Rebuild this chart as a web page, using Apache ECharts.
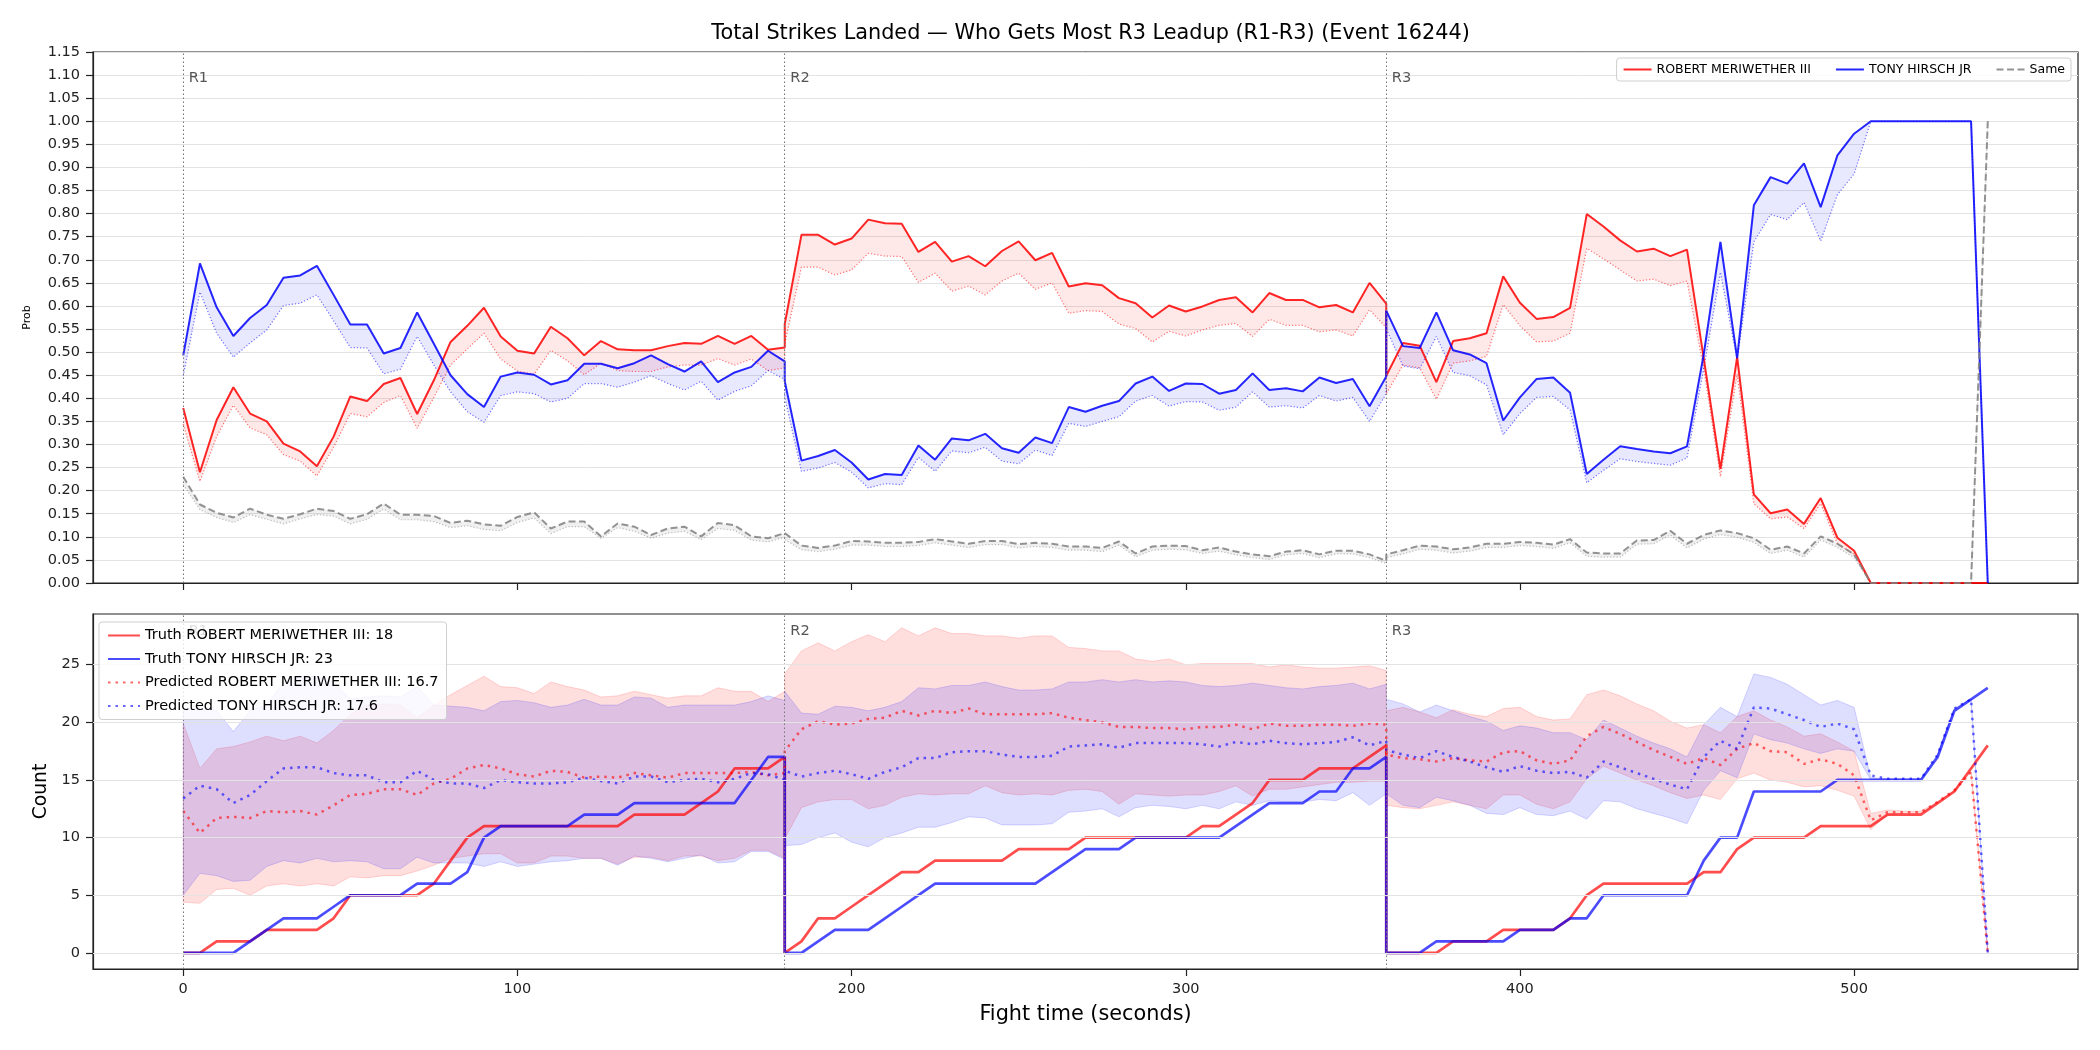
<!DOCTYPE html>
<html><head><meta charset="utf-8">
<script src="https://cdn.jsdelivr.net/npm/echarts@6/dist/echarts.min.js"></script>
<style>html,body{margin:0;padding:0;background:#fff}#chart{width:2100px;height:1050px}</style>
</head><body><div id="chart"></div>
<script>
// ---------- data ----------
const titleText = 'Total Strikes Landed \u2014 Who Gets Most R3 Leadup (R1-R3) (Event 16244)';
const fighters = ['ROBERT MERIWETHER III', 'TONY HIRSCH JR'];
const sameName = 'Same';
const finalTruth = [18, 23];
const finalPred = [16.7, 17.6];
const roundLabels = ['R1', 'R2', 'R3'];
const roundStarts = [0, 180, 360];
const xTicks = [0, 100, 200, 300, 400, 500];
const countTicks = [0, 5, 10, 15, 20, 25];

const tR1 = [0,5,10,15,20,25,30,35,40,45,50,55,60,65,70,75,80,85,90,95,100,105,110,115,120,125,130,135,140,145,150,155,160,165,170,175,180];
const tR2 = [180,185,190,195,200,205,210,215,220,225,230,235,240,245,250,255,260,265,270,275,280,285,290,295,300,305,310,315,320,325,330,335,340,345,350,355,360];
const tR3 = [360,365,370,375,380,385,390,395,400,405,410,415,420,425,430,435,440,445,450,455,460,465,470,475,480,485,490,495,500,505,510,515,520,525,530,535,540];

// top panel: probabilities
const probRed = [
 0.379,0.240,0.353,0.424,0.367,0.350,0.302,0.285,0.253,0.317,0.404,0.394,0.431,0.444,0.366,0.439,0.522,0.557,0.596,0.534,0.503,0.497,0.555,0.530,0.493,0.524,0.506,0.504,0.504,0.513,0.520,0.518,0.535,0.518,0.535,0.505,0.510,
 0.561,0.754,0.754,0.733,0.746,0.787,0.779,0.778,0.717,0.739,0.696,0.708,0.686,0.719,0.740,0.699,0.715,0.642,0.649,0.645,0.617,0.606,0.575,0.601,0.588,0.599,0.613,0.619,0.586,0.628,0.613,0.613,0.597,0.602,0.586,0.650,0.605,
 0.449,0.520,0.514,0.435,0.524,0.530,0.541,0.664,0.607,0.572,0.576,0.596,0.799,0.772,0.742,0.718,0.724,0.708,0.722,0.487,0.247,0.489,0.192,0.151,0.159,0.128,0.184,0.098,0.070,0,0,0,0,0,0,0,0];
const probRedLow = [
 0.344,0.220,0.317,0.385,0.336,0.321,0.278,0.264,0.232,0.294,0.367,0.360,0.391,0.406,0.335,0.402,0.472,0.507,0.541,0.485,0.459,0.452,0.504,0.481,0.451,0.476,0.460,0.458,0.458,0.468,0.472,0.472,0.486,0.472,0.485,0.460,0.466,
 0.518,0.684,0.684,0.667,0.678,0.714,0.708,0.707,0.651,0.671,0.632,0.643,0.624,0.654,0.671,0.636,0.650,0.584,0.590,0.588,0.561,0.551,0.522,0.545,0.535,0.548,0.558,0.562,0.534,0.571,0.558,0.558,0.544,0.548,0.535,0.592,0.553,
 0.410,0.472,0.466,0.398,0.476,0.481,0.491,0.603,0.557,0.522,0.524,0.541,0.725,0.702,0.678,0.654,0.658,0.644,0.654,0.464,0.230,0.452,0.172,0.139,0.143,0.118,0.172,0.085,0.062,0,0,0,0,0,0,0,0];
const probBlue = [
 0.493,0.692,0.597,0.535,0.574,0.602,0.661,0.666,0.687,0.624,0.560,0.560,0.497,0.509,0.586,0.518,0.450,0.409,0.381,0.447,0.456,0.451,0.430,0.439,0.475,0.475,0.465,0.476,0.493,0.474,0.458,0.480,0.435,0.456,0.468,0.503,0.480,
 0.437,0.265,0.275,0.288,0.261,0.224,0.236,0.234,0.298,0.267,0.313,0.309,0.323,0.292,0.282,0.315,0.303,0.381,0.371,0.384,0.394,0.432,0.447,0.416,0.432,0.431,0.410,0.418,0.454,0.418,0.422,0.415,0.445,0.433,0.442,0.383,0.447,
 0.590,0.513,0.509,0.586,0.504,0.495,0.476,0.352,0.402,0.442,0.445,0.412,0.236,0.267,0.296,0.290,0.285,0.281,0.296,0.495,0.739,0.487,0.818,0.879,0.865,0.909,0.814,0.926,0.973,1.0,1.0,1.0,1.0,1.0,1.0,1.0,0];
const probBlueLow = [
 0.449,0.630,0.541,0.489,0.520,0.548,0.601,0.606,0.624,0.568,0.510,0.509,0.453,0.463,0.534,0.472,0.414,0.371,0.348,0.406,0.414,0.410,0.392,0.400,0.432,0.432,0.424,0.435,0.449,0.432,0.418,0.437,0.396,0.415,0.427,0.460,0.441,
 0.402,0.242,0.249,0.261,0.240,0.206,0.215,0.213,0.272,0.242,0.286,0.282,0.294,0.264,0.258,0.288,0.276,0.346,0.339,0.350,0.360,0.394,0.406,0.383,0.393,0.392,0.374,0.381,0.414,0.381,0.384,0.379,0.406,0.394,0.402,0.350,0.410,
 0.551,0.470,0.464,0.534,0.456,0.449,0.429,0.321,0.367,0.402,0.404,0.375,0.217,0.244,0.269,0.263,0.259,0.255,0.271,0.464,0.673,0.483,0.739,0.798,0.787,0.824,0.741,0.841,0.886,1.0,1.0,1.0,1.0,1.0,1.0,1.0,0];
const probSame = [
 0.230,0.170,0.152,0.142,0.161,0.148,0.139,0.149,0.161,0.156,0.139,0.149,0.172,0.148,0.148,0.145,0.130,0.135,0.127,0.124,0.143,0.153,0.118,0.133,0.133,0.101,0.129,0.122,0.104,0.118,0.122,0.101,0.130,0.125,0.101,0.097,0.108,
 0.104,0.081,0.076,0.081,0.091,0.090,0.087,0.087,0.089,0.095,0.090,0.085,0.091,0.091,0.084,0.087,0.085,0.079,0.079,0.076,0.090,0.064,0.079,0.081,0.080,0.071,0.077,0.068,0.062,0.058,0.068,0.071,0.062,0.070,0.070,0.062,0.048,
 0.062,0.071,0.081,0.079,0.073,0.077,0.085,0.085,0.089,0.087,0.083,0.095,0.066,0.064,0.064,0.092,0.093,0.113,0.085,0.104,0.114,0.108,0.097,0.072,0.079,0.064,0.101,0.085,0.062,0,0,0,0,0,0,0,1.0];
const probSameLow = [
 0.213,0.159,0.142,0.131,0.148,0.138,0.128,0.139,0.148,0.145,0.128,0.138,0.160,0.137,0.137,0.133,0.120,0.124,0.116,0.113,0.131,0.141,0.107,0.122,0.122,0.097,0.120,0.112,0.097,0.108,0.112,0.094,0.118,0.114,0.093,0.089,0.099,
 0.094,0.072,0.068,0.073,0.082,0.082,0.079,0.079,0.081,0.087,0.082,0.077,0.083,0.083,0.076,0.079,0.077,0.071,0.071,0.068,0.082,0.057,0.071,0.073,0.072,0.064,0.069,0.061,0.055,0.051,0.061,0.064,0.055,0.063,0.063,0.055,0.042,
 0.055,0.063,0.073,0.071,0.065,0.069,0.077,0.077,0.081,0.079,0.075,0.087,0.058,0.056,0.056,0.084,0.085,0.104,0.076,0.095,0.105,0.099,0.088,0.064,0.071,0.056,0.093,0.077,0.055,0,0,0,0,0,0,0,1.0];

// bottom panel: counts
const truthRed = [
 0,0,1,1,1,2,2,2,2,3,5,5,5,5,5,6,8,10,11,11,11,11,11,11,11,11,11,12,12,12,12,13,14,16,16,16,17,
 0,1,3,3,4,5,6,7,7,8,8,8,8,8,9,9,9,9,10,10,10,10,10,10,10,11,11,12,13,15,15,15,16,16,16,17,18,
 0,0,0,0,1,1,1,2,2,2,2,3,5,6,6,6,6,6,6,7,7,9,10,10,10,10,11,11,11,11,12,12,12,13,14,16,18];
const truthBlue = [
 0,0,0,0,1,2,3,3,3,4,5,5,5,5,6,6,6,7,10,11,11,11,11,11,12,12,12,13,13,13,13,13,13,13,15,17,17,
 0,0,1,2,2,2,3,4,5,6,6,6,6,6,6,6,7,8,9,9,9,10,10,10,10,10,10,11,12,13,13,13,14,14,16,16,17,
 0,0,0,1,1,1,1,1,2,2,2,3,3,5,5,5,5,5,5,8,10,10,14,14,14,14,14,15,15,15,15,15,15,17,21,22,23];
const predRed = [
 12.3,10.4,11.7,11.8,11.7,12.3,12.2,12.3,12.0,12.8,13.7,13.8,14.2,14.2,13.7,14.7,15.1,16.0,16.3,16.0,15.5,15.3,15.8,15.7,15.2,15.3,15.2,15.6,15.4,15.2,15.6,15.6,15.6,15.6,15.7,15.4,15.6,
 17.5,19.4,20.1,19.8,19.9,20.3,20.4,21.0,20.6,21.0,20.8,21.2,20.7,20.7,20.7,20.7,20.8,20.4,20.2,20.0,19.6,19.6,19.5,19.5,19.4,19.6,19.6,19.8,19.4,19.9,19.7,19.7,19.8,19.8,19.7,19.9,19.8,
 17.2,16.9,16.8,16.6,16.9,16.7,16.6,17.4,17.5,16.7,16.4,16.7,18.8,19.6,19.0,18.3,17.6,17.0,16.4,16.9,16.3,17.7,18.2,17.5,17.4,16.4,16.8,16.4,15.4,11.5,12.2,12.2,12.2,13.1,14.1,15.7,0];
const predBlue = [
 13.4,14.5,14.2,13.0,13.7,14.9,16.0,16.1,16.1,15.6,15.4,15.4,14.8,14.8,15.8,15.0,14.7,14.7,14.3,15.0,14.8,14.7,14.7,14.8,15.2,14.9,14.7,15.3,15.3,14.8,15.0,15.1,14.8,15.1,15.6,15.5,15.0,
 15.8,15.3,15.6,15.8,15.5,15.1,15.7,16.1,16.9,16.9,17.4,17.5,17.5,17.2,17.0,17.0,17.1,17.9,18.0,18.1,17.8,18.2,18.2,18.2,18.2,18.1,17.9,18.3,18.1,18.4,18.2,18.1,18.2,18.3,18.7,18.0,18.4,
 17.6,17.2,16.9,17.5,17.0,16.6,16.1,15.7,16.2,15.8,15.6,15.7,15.2,16.6,16.1,15.6,15.1,14.6,14.2,17.0,18.4,17.7,21.3,21.2,20.7,20.2,19.6,19.9,19.4,15.4,15.1,15.1,15.1,17.2,21.2,22.0,0];
const bandRedUp = [
 19.9,16.0,17.7,17.9,18.3,18.8,18.4,18.8,18.2,19.3,20.7,21.5,21.6,21.5,20.4,21.5,22.4,23.2,24.0,23.1,23.0,22.5,23.5,23.1,22.8,22.2,22.3,22.7,22.4,22.1,22.3,22.3,23.0,22.7,22.7,21.8,22.7,
 24.2,26.2,26.9,26.2,27.0,27.6,27.0,28.2,27.5,28.2,27.7,27.7,27.5,27.5,27.3,27.5,27.5,26.5,26.4,26.2,26.2,25.5,25.3,25.5,25.0,25.1,25.1,25.1,25.1,24.8,25.0,24.8,24.7,24.7,24.8,24.9,24.5,
 21.0,21.3,20.9,20.4,21.1,20.7,20.5,21.2,21.3,20.5,20.2,20.3,22.4,22.8,22.3,21.6,21.0,20.1,19.5,19.8,19.1,20.5,21.0,20.2,19.6,18.8,19.0,18.3,17.5,12.1,12.4,12.3,12.3,13.1,14.1,15.7,0];
const bandRedLo = [
 4.4,4.3,5.5,5.6,5.0,5.8,6.0,5.8,6.0,5.8,6.6,6.5,6.7,6.7,7.1,7.6,8.2,8.4,8.6,8.6,7.8,7.8,8.4,8.4,8.2,8.2,7.7,8.3,8.3,8.0,8.4,8.4,8.0,8.2,8.9,8.9,8.2,
 9.9,12.6,13.1,13.3,13.3,12.5,12.8,13.5,13.8,13.7,13.8,13.8,14.5,13.9,13.7,13.8,13.7,14.1,14.2,14.0,12.9,13.8,13.7,13.6,13.7,13.7,14.0,14.5,13.6,14.2,14.2,14.4,14.6,14.8,14.8,14.9,14.9,
 12.8,12.6,12.5,12.8,13.1,12.8,12.5,13.7,13.7,12.9,12.5,13.1,15.1,16.2,15.6,15.0,14.5,13.9,13.4,13.7,13.3,15.1,15.6,15.0,14.8,14.4,14.5,14.1,13.6,10.7,12.0,12.1,12.1,13.1,14.1,15.7,0];
const bandBlueUp = [
 21.0,21.5,21.0,19.2,21.0,21.5,23.5,24.0,24.0,23.5,22.0,22.2,22.3,22.2,23.1,21.5,21.4,21.3,21.0,21.8,21.9,21.7,21.3,21.5,22.0,21.5,21.5,22.2,22.1,21.3,21.5,21.5,21.5,21.5,21.8,22.3,21.9,
 22.7,20.8,20.7,21.4,21.3,21.0,21.3,21.8,23.0,22.9,23.2,23.2,23.5,23.1,22.8,22.8,22.9,23.5,23.5,23.7,23.5,23.7,23.5,23.6,23.5,23.2,23.1,23.2,23.4,23.2,23.0,22.9,23.1,23.2,23.4,22.9,23.3,
 22.0,21.6,20.9,21.5,21.0,20.5,20.1,19.3,19.7,19.5,19.1,19.1,18.5,20.2,19.5,18.8,18.2,17.7,17.0,19.8,21.3,20.5,24.2,23.9,23.3,22.4,21.5,21.9,21.3,15.2,15.1,15.1,15.1,17.2,21.2,22.0,0];
const bandBlueLo = [
 5.0,6.9,6.7,6.2,6.3,7.5,8.0,7.8,8.2,7.9,8.0,7.9,7.3,7.3,8.3,7.8,7.8,7.8,7.5,7.9,7.5,7.7,7.9,8.0,8.2,8.2,7.6,8.4,8.2,7.9,8.2,8.5,7.8,7.9,8.8,8.8,8.1,
 9.3,9.4,10.0,10.4,9.6,9.2,10.0,10.4,10.9,10.9,11.3,11.8,11.7,11.1,11.1,11.1,11.2,12.2,12.3,12.5,11.8,12.6,12.8,12.7,12.5,12.8,12.5,13.1,12.8,13.2,13.1,13.1,13.3,13.2,13.9,12.8,13.8,
 13.8,12.8,12.6,13.5,13.2,12.8,12.1,12.0,12.6,12.0,11.9,12.3,11.6,13.2,13.1,12.5,12.1,11.7,11.2,14.1,15.8,15.2,19.0,18.5,18.2,17.7,17.3,17.7,17.5,15.0,15.1,15.1,15.1,17.2,21.2,22.0,0];

// ---------- build ----------
const time = tR1.concat(tR2, tR3);
const pts = ys => time.map((t, i) => [t, ys[i]]);
const FONT = 'DejaVu Sans';

function band(name, up, lo, fill, stroke, idx, z) {
  return {
    type: 'custom', name, xAxisIndex: idx, yAxisIndex: idx, z, silent: true, clip: true,
    data: [[time[0], lo[0]]],
    renderItem: (params, api) => {
      const p = [];
      for (let i = 0; i < time.length; i++) p.push(api.coord([time[i], up[i]]));
      for (let i = time.length - 1; i >= 0; i--) p.push(api.coord([time[i], lo[i]]));
      return { type: 'polygon', shape: { points: p }, style: { fill, stroke: stroke || null, lineWidth: stroke ? 1 : 0 } };
    }
  };
}
function line(name, ys, color, width, type, idx, z) {
  return {
    type: 'line', name, xAxisIndex: idx, yAxisIndex: idx, data: pts(ys), z,
    symbol: 'none', showSymbol: false, silent: true,
    lineStyle: { color, width, type }, itemStyle: { color }
  };
}
function helper(idx, yLab) {
  return {
    type: 'line', xAxisIndex: idx, yAxisIndex: idx, data: [[0, yLab]], z: 0, zlevel: 0, symbol: 'none', silent: true,
    lineStyle: { width: 0, opacity: 0 },
    markLine: {
      silent: true, symbol: 'none', label: { show: false },
      lineStyle: { color: '#777', width: 1, type: [1.5, 2.5] },
      data: roundStarts.map(v => ({ xAxis: v }))
    },
    markPoint: {
      symbol: 'circle', symbolSize: 1, silent: true, itemStyle: { color: 'rgba(0,0,0,0)' },
      label: { show: true, position: 'right', distance: 5, color: '#555', fontSize: 14.6, fontFamily: FONT, formatter: p => p.name },
      data: roundLabels.map((r, i) => ({ name: r, coord: [roundStarts[i], yLab] }))
    }
  };
}
function gridHelper() {
  return {
    type: 'line', xAxisIndex: 1, yAxisIndex: 1, data: [[0, 0]], z: 0, symbol: 'none', silent: true,
    lineStyle: { width: 0, opacity: 0 },
    markLine: {
      silent: true, symbol: 'none', label: { show: false },
      lineStyle: { color: '#e3e3e3', width: 1, type: 'solid' },
      data: countTicks.map(v => ({ yAxis: v }))
    }
  };
}

const axisCol = '#222';
const tickCfg = { show: true, length: 7, lineStyle: { color: axisCol, width: 1.2 } };
const lineCfg = { show: true, onZero: false, lineStyle: { color: axisCol, width: 1.2 } };

const truthNames = fighters.map((f, i) => 'Truth ' + f + ': ' + finalTruth[i]);
const predNames = fighters.map((f, i) => 'Predicted ' + f + ': ' + finalPred[i]);

const RED = 'rgba(255,0,0,0.85)', BLUE = 'rgba(0,0,255,0.85)';
const legendCommon = {
  backgroundColor: 'rgba(255,255,255,0.8)', borderColor: '#cfcfcf', borderWidth: 1, borderRadius: 3,
  z: 20, zlevel: 1, itemStyle: { opacity: 0 }, selectedMode: false
};
const option = {
  animation: false,
  backgroundColor: '#fff',
  textStyle: { fontFamily: FONT },
  title: { text: titleText, left: 1085.5, textAlign: 'center', top: 18,
    textStyle: { fontSize: 20.8, fontWeight: 'normal', color: '#000', fontFamily: FONT } },
  grid: [
    { left: 93, top: 52, width: 1985, height: 531, show: true, borderColor: axisCol, borderWidth: 1.2, backgroundColor: 'rgba(0,0,0,0)' },
    { left: 93, top: 614, width: 1985, height: 355, show: true, borderColor: axisCol, borderWidth: 1.2, backgroundColor: 'rgba(0,0,0,0)' }
  ],
  xAxis: [
    { gridIndex: 0, type: 'value', min: -27, max: 567, axisLine: lineCfg,
      axisTick: Object.assign({ customValues: xTicks }, tickCfg),
      axisLabel: { show: false, customValues: xTicks }, splitLine: { show: false } },
    { gridIndex: 1, type: 'value', min: -27, max: 567, axisLine: lineCfg,
      axisTick: Object.assign({ customValues: xTicks }, tickCfg),
      axisLabel: { show: true, customValues: xTicks, fontSize: 14.5, color: axisCol, margin: 13, fontFamily: FONT },
      splitLine: { show: false },
      name: 'Fight time (seconds)', nameLocation: 'middle', nameGap: 35,
      nameTextStyle: { fontSize: 20.8, color: '#000', fontFamily: FONT } }
  ],
  yAxis: [
    { gridIndex: 0, type: 'value', min: 0, max: 1.15, interval: 0.05, axisLine: lineCfg, axisTick: tickCfg,
      axisLabel: { fontSize: 14.5, color: axisCol, margin: 13, fontFamily: FONT, formatter: v => v.toFixed(2) },
      splitLine: { show: true, lineStyle: { color: '#e3e3e3', width: 1 } },
      name: 'Prob', nameLocation: 'middle', nameGap: 60, nameTextStyle: { fontSize: 11, color: '#000', fontFamily: FONT } },
    { gridIndex: 1, type: 'value', min: -1.4, max: 29.4, axisLine: lineCfg,
      axisTick: Object.assign({ customValues: countTicks }, tickCfg),
      axisLabel: { customValues: countTicks, fontSize: 14.5, color: axisCol, margin: 13, fontFamily: FONT },
      splitLine: { show: false },
      name: 'Count', nameLocation: 'middle', nameGap: 42, nameTextStyle: { fontSize: 18.75, color: '#000', fontFamily: FONT } }
  ],
  legend: [
    Object.assign({ data: [fighters[0], fighters[1], sameName], orient: 'horizontal', right: 29, top: 58,
      itemWidth: 28, itemHeight: 12, itemGap: 24, padding: [5, 6],
      textStyle: { fontSize: 12.5, color: '#000', fontFamily: FONT } }, legendCommon),
    Object.assign({ data: [truthNames[0], truthNames[1], predNames[0], predNames[1]], orient: 'vertical', left: 99, top: 622,
      itemWidth: 32, itemHeight: 14, itemGap: 8.5, padding: [6, 8],
      textStyle: { fontSize: 14.5, color: '#000', fontFamily: FONT } }, legendCommon)
  ],
  series: [
    helper(0, 1.0925),
    helper(1, 27.93),
    gridHelper(),
    // top bands
    band('fillRed', probRed, probRedLow, 'rgba(255,0,0,0.09)', null, 0, 1),
    band('fillBlue', probBlue, probBlueLow, 'rgba(0,0,255,0.09)', null, 0, 1),
    band('fillSame', probSame, probSameLow, 'rgba(128,128,128,0.12)', null, 0, 1),
    line('redLow', probRedLow, 'rgba(255,0,0,0.55)', 1.2, [1.2, 2], 0, 2),
    line('blueLow', probBlueLow, 'rgba(0,0,255,0.55)', 1.2, [1.2, 2], 0, 2),
    line('sameLow', probSameLow, 'rgba(128,128,128,0.5)', 1.2, [1.2, 2], 0, 2),
    line(fighters[0], probRed, RED, 2, 'solid', 0, 3),
    line(fighters[1], probBlue, BLUE, 2, 'solid', 0, 3),
    line(sameName, probSame, 'rgba(128,128,128,0.85)', 2, [7, 3.5], 0, 3),
    // bottom bands
    band('bandRed', bandRedUp, bandRedLo, 'rgba(255,0,0,0.13)', 'rgba(255,0,0,0.15)', 1, 1),
    band('bandBlue', bandBlueUp, bandBlueLo, 'rgba(0,0,255,0.13)', 'rgba(0,0,255,0.15)', 1, 1),
    line(truthNames[0], truthRed, 'rgba(255,0,0,0.7)', 2.7, 'solid', 1, 3),
    line(truthNames[1], truthBlue, 'rgba(0,0,255,0.7)', 2.7, 'solid', 1, 3),
    line(predNames[0], predRed, 'rgba(255,0,0,0.6)', 2.5, [2.5, 5], 1, 3),
    line(predNames[1], predBlue, 'rgba(0,0,255,0.6)', 2.5, [2.5, 5], 1, 3)
  ]
};
const chart = echarts.init(document.getElementById('chart'), null, { renderer: 'canvas', width: 2100, height: 1050 });
chart.setOption(option);
</script>
</body></html>
